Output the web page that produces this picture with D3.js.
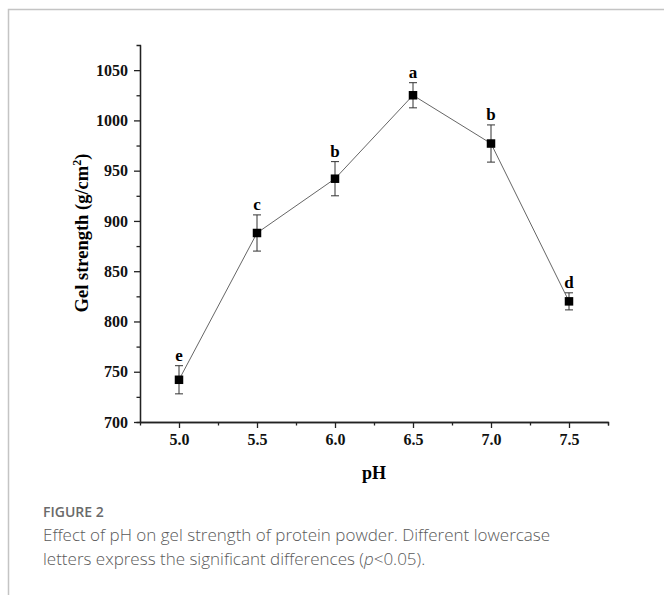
<!DOCTYPE html>
<html>
<head>
<meta charset="utf-8">
<script src="https://cdn.jsdelivr.net/npm/d3@7"></script>
<style>
body { margin: 0; background: #fff; }
svg { display: block; }
.tick text { font-family: "Liberation Serif", "Times New Roman", serif; font-weight: bold; font-size: 16px; fill: #111; }
.axis path, .axis line { stroke: #222; stroke-width: 1.3; }
</style>
</head>
<body>
<svg id="chart" width="664" height="595"></svg>
<script>
// pH levels and gel strength (g/cm2)
var ph = [5.0, 5.5, 6.0, 6.5, 7.0, 7.5]
var strength = [742, 888, 942, 1025, 977, 820]
var sd = [14, 18, 17, 12.5, 18.5, 8.5]
var letters = ['e', 'c', 'b', 'a', 'b', 'd']

var xTicks = [5.0, 5.5, 6.0, 6.5, 7.0, 7.5]
var xMinor = [5.25, 5.75, 6.25, 6.75, 7.25, 7.75]
var yTicks = [700, 750, 800, 850, 900, 950, 1000, 1050]
var yMinor = [725, 775, 825, 875, 925, 975, 1025]

var svg = d3.select('#chart')

// frame of the figure panel
svg.append('path')
    .attr('d', 'M8.5,595 V9.5 H664')
    .attr('fill', 'none')
    .attr('stroke', '#c4c4c4')
    .attr('stroke-width', 1.5)

var x = d3.scaleLinear().domain([4.75, 7.75]).range([140, 608])
var y = d3.scaleLinear().domain([700, 1075]).range([422, 45])

// minor ticks first
svg.append('g').attr('class', 'axis')
    .attr('transform', 'translate(0,422)')
    .call(d3.axisBottom(x).tickValues(xMinor).tickSize(3.5).tickFormat(''))
svg.append('g').attr('class', 'axis')
    .attr('transform', 'translate(140,0)')
    .call(d3.axisLeft(y).tickValues(yMinor).tickSize(3.5).tickFormat(''))

svg.append('g').attr('class', 'axis')
    .attr('transform', 'translate(0,422)')
    .call(d3.axisBottom(x).tickValues(xTicks).tickSize(6).tickSizeOuter(0).tickPadding(6).tickFormat(d3.format('.1f')))
svg.append('g').attr('class', 'axis')
    .attr('transform', 'translate(140,0)')
    .call(d3.axisLeft(y).tickValues(yTicks).tickSize(6).tickSizeOuter(0).tickPadding(6).tickFormat(d3.format('d')))

// axis titles
svg.append('text')
    .attr('x', 374).attr('y', 479)
    .attr('text-anchor', 'middle')
    .style('font-family', '"Liberation Serif", serif')
    .style('font-weight', 'bold')
    .style('font-size', '18px')
    .text('pH')

var yt = svg.append('text')
    .attr('transform', 'translate(88,233) rotate(-90)')
    .attr('text-anchor', 'middle')
    .style('font-family', '"Liberation Serif", serif')
    .style('font-weight', 'bold')
    .style('font-size', '18.5px')
yt.append('tspan').text('Gel strength (g/cm')
yt.append('tspan').attr('dy', -7).style('font-size', '12px').text('2')
yt.append('tspan').attr('dy', 7).text(')')

var pts = ph.map(function(p, i) {
    return {x: p, v: strength[i], e: sd[i], t: letters[i]}
})

// connecting line
svg.append('path')
    .datum(pts)
    .attr('fill', 'none')
    .attr('stroke', '#666')
    .attr('stroke-width', 1)
    .attr('d', d3.line().x(function(d) { return x(d.x) }).y(function(d) { return y(d.v) }))

// error bars
var eb = svg.append('g').attr('stroke', '#333').attr('stroke-width', 1)
pts.forEach(function(d) {
    var cx = x(d.x), top = y(d.v + d.e), bot = y(d.v - d.e)
    eb.append('line').attr('x1', cx).attr('x2', cx).attr('y1', top).attr('y2', bot)
    eb.append('line').attr('x1', cx - 4).attr('x2', cx + 4).attr('y1', top).attr('y2', top)
    eb.append('line').attr('x1', cx - 4).attr('x2', cx + 4).attr('y1', bot).attr('y2', bot)
})

// square markers
svg.selectAll('rect.pt')
    .data(pts)
    .enter()
    .append('rect')
    .attr('class', 'pt')
    .attr('x', function(d) { return x(d.x) - 4.25 })
    .attr('y', function(d) { return y(d.v) - 4.25 })
    .attr('width', 8.5)
    .attr('height', 8.5)
    .attr('fill', '#000')

// significance letters
svg.selectAll('text.sig')
    .data(pts)
    .enter()
    .append('text')
    .attr('class', 'sig')
    .attr('x', function(d) { return x(d.x) })
    .attr('y', function(d) { return y(d.v + d.e) - 5 })
    .attr('text-anchor', 'middle')
    .style('font-family', '"Liberation Serif", serif')
    .style('font-weight', 'bold')
    .style('font-size', '17px')
    .text(function(d) { return d.t })

// caption
svg.append('text')
    .attr('x', 43).attr('y', 517)
    .style('font-family', '"Open Sans", sans-serif')
    .style('font-size', '14px')
    .style('font-weight', 600)
    .attr('fill', '#6a6a6a')
    .text('FIGURE 2')

var cap = svg.append('text')
    .attr('x', 43).attr('y', 541)
    .style('font-family', '"Open Sans", sans-serif')
    .style('font-size', '17px')
    .style('font-weight', 300)
    .attr('fill', '#5a5a5a')
cap.text('Effect of pH on gel strength of protein powder. Different lowercase')
var cap2 = svg.append('text')
    .attr('x', 43).attr('y', 565)
    .style('font-family', '"Open Sans", sans-serif')
    .style('font-size', '17px')
    .style('font-weight', 300)
    .attr('fill', '#5a5a5a')
cap2.append('tspan').text('letters express the significant differences (')
cap2.append('tspan').style('font-style', 'italic').text('p')
cap2.append('tspan').text('<0.05).')
</script>
</body>
</html>
